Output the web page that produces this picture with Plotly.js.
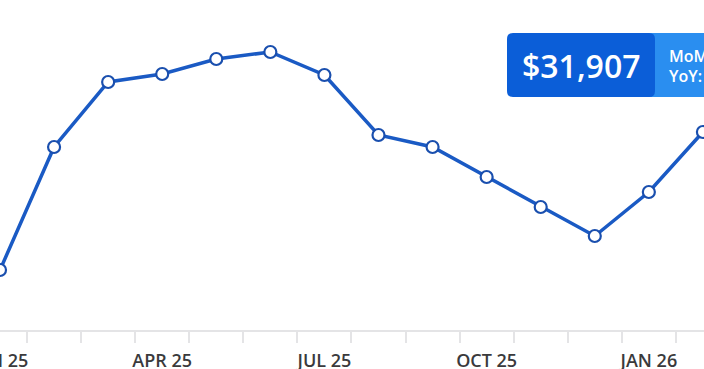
<!DOCTYPE html>
<html>
<head>
<meta charset="utf-8">
<script src="https://cdn.plot.ly/plotly-3.0.1.min.js"></script>
<style>
html,body{margin:0;padding:0;background:#fff;}
#chart{width:704px;height:369px;}
</style>
</head>
<body>
<div id="chart"></div>
<script>
const months = ["JAN 25","FEB 25","MAR 25","APR 25","MAY 25","JUN 25","JUL 25","AUG 25","SEP 25","OCT 25","NOV 25","DEC 25","JAN 26","FEB 26"];
const prices = [30527, 31757, 32407, 32487, 32637, 32707, 32477, 31877, 31757, 31457, 31157, 30867, 31307, 31907];
const labelMonths = ["JAN 25","APR 25","JUL 25","OCT 25","JAN 26"];
const tooltipLines = ["MoM:", "YoY:"];

const W = 704, H = 369, MB = 39, PH = H - MB;
const xs = months.map((m, i) => i);
const boundaries = months.slice(1).map((m, i) => i + 0.5);
const labelIdx = labelMonths.map(m => months.indexOf(m));
const XR = [0, 13.02];

const px = v => v / W;
const py = v => 1 - v / PH;

function roundRect(x0, y0, x1, y1, r) {
  const X0 = px(x0), X1 = px(x1), Y0 = py(y1), Y1 = py(y0);
  const rx = r / W, ry = r / PH;
  return `M ${X0+rx},${Y0} L ${X1-rx},${Y0} Q ${X1},${Y0} ${X1},${Y0+ry} L ${X1},${Y1-ry} Q ${X1},${Y1} ${X1-rx},${Y1} L ${X0+rx},${Y1} Q ${X0},${Y1} ${X0},${Y1-ry} L ${X0},${Y0+ry} Q ${X0},${Y0} ${X0+rx},${Y0} Z`;
}

const lastVal = prices[prices.length - 1];
const priceText = "$" + lastVal.toLocaleString("en-US");

const trace = {
  x: xs, y: prices, type: "scatter", mode: "lines+markers",
  line: {color: "#1a5ac4", width: 3.5, shape: "linear"},
  marker: {size: 12, color: "#ffffff", line: {color: "#1a4fae", width: 2.2}},
  cliponaxis: true, hoverinfo: "skip"
};
const dummy = {x: [labelIdx[0]], y: [null], xaxis: "x2", yaxis: "y", type: "scatter", mode: "markers", showlegend: false, hoverinfo: "skip"};

const layout = {
  width: W, height: H,
  margin: {l: 0, r: 0, t: 0, b: MB, pad: 0},
  paper_bgcolor: "#ffffff", plot_bgcolor: "#ffffff",
  showlegend: false,
  xaxis: {
    range: XR, showgrid: false, zeroline: false,
    showline: true, linecolor: "#e4e4e6", linewidth: 2,
    tickmode: "array", tickvals: boundaries, ticktext: boundaries.map(() => ""),
    ticks: "outside", ticklen: 11, tickwidth: 2, tickcolor: "#e4e4e6",
    showticklabels: false, fixedrange: true
  },
  xaxis2: {
    overlaying: "x", anchor: "y", side: "bottom",
    range: XR, showgrid: false, zeroline: false, showline: false,
    tickmode: "array", tickvals: labelIdx, ticktext: labelMonths,
    ticks: "outside", ticklen: 14, tickcolor: "rgba(0,0,0,0)",
    tickfont: {family: "Open Sans", size: 18, color: "#3a3a3c", weight: 600},
    ticklabeloverflow: "allow"
  },
  yaxis: {
    range: [29927, 33227], visible: false, showgrid: false, zeroline: false, fixedrange: true
  },
  shapes: [
    {type: "path", xref: "paper", yref: "paper", path: roundRect(640, 33, 730, 97, 6), fillcolor: "#2a8ef0", line: {width: 0}, layer: "above"},
    {type: "path", xref: "paper", yref: "paper", path: roundRect(507, 33, 655, 97, 6), fillcolor: "#0b5ed8", line: {width: 0}, layer: "above"}
  ],
  annotations: [
    {xref: "paper", yref: "paper", x: px(581), y: py(65), text: priceText, showarrow: false,
     xanchor: "center", yanchor: "middle", font: {family: "Open Sans", size: 32, color: "#ffffff", weight: 600}},
    {xref: "paper", yref: "paper", x: px(667), y: py(56), text: tooltipLines[0], showarrow: false,
     xanchor: "left", yanchor: "middle", font: {family: "Open Sans", size: 16, color: "#ffffff", weight: 600}},
    {xref: "paper", yref: "paper", x: px(667), y: py(76), text: tooltipLines[1], showarrow: false,
     xanchor: "left", yanchor: "middle", font: {family: "Open Sans", size: 16, color: "#ffffff", weight: 600}}
  ]
};

Plotly.newPlot("chart", [trace, dummy], layout, {staticPlot: true, displayModeBar: false});
</script>
</body>
</html>
